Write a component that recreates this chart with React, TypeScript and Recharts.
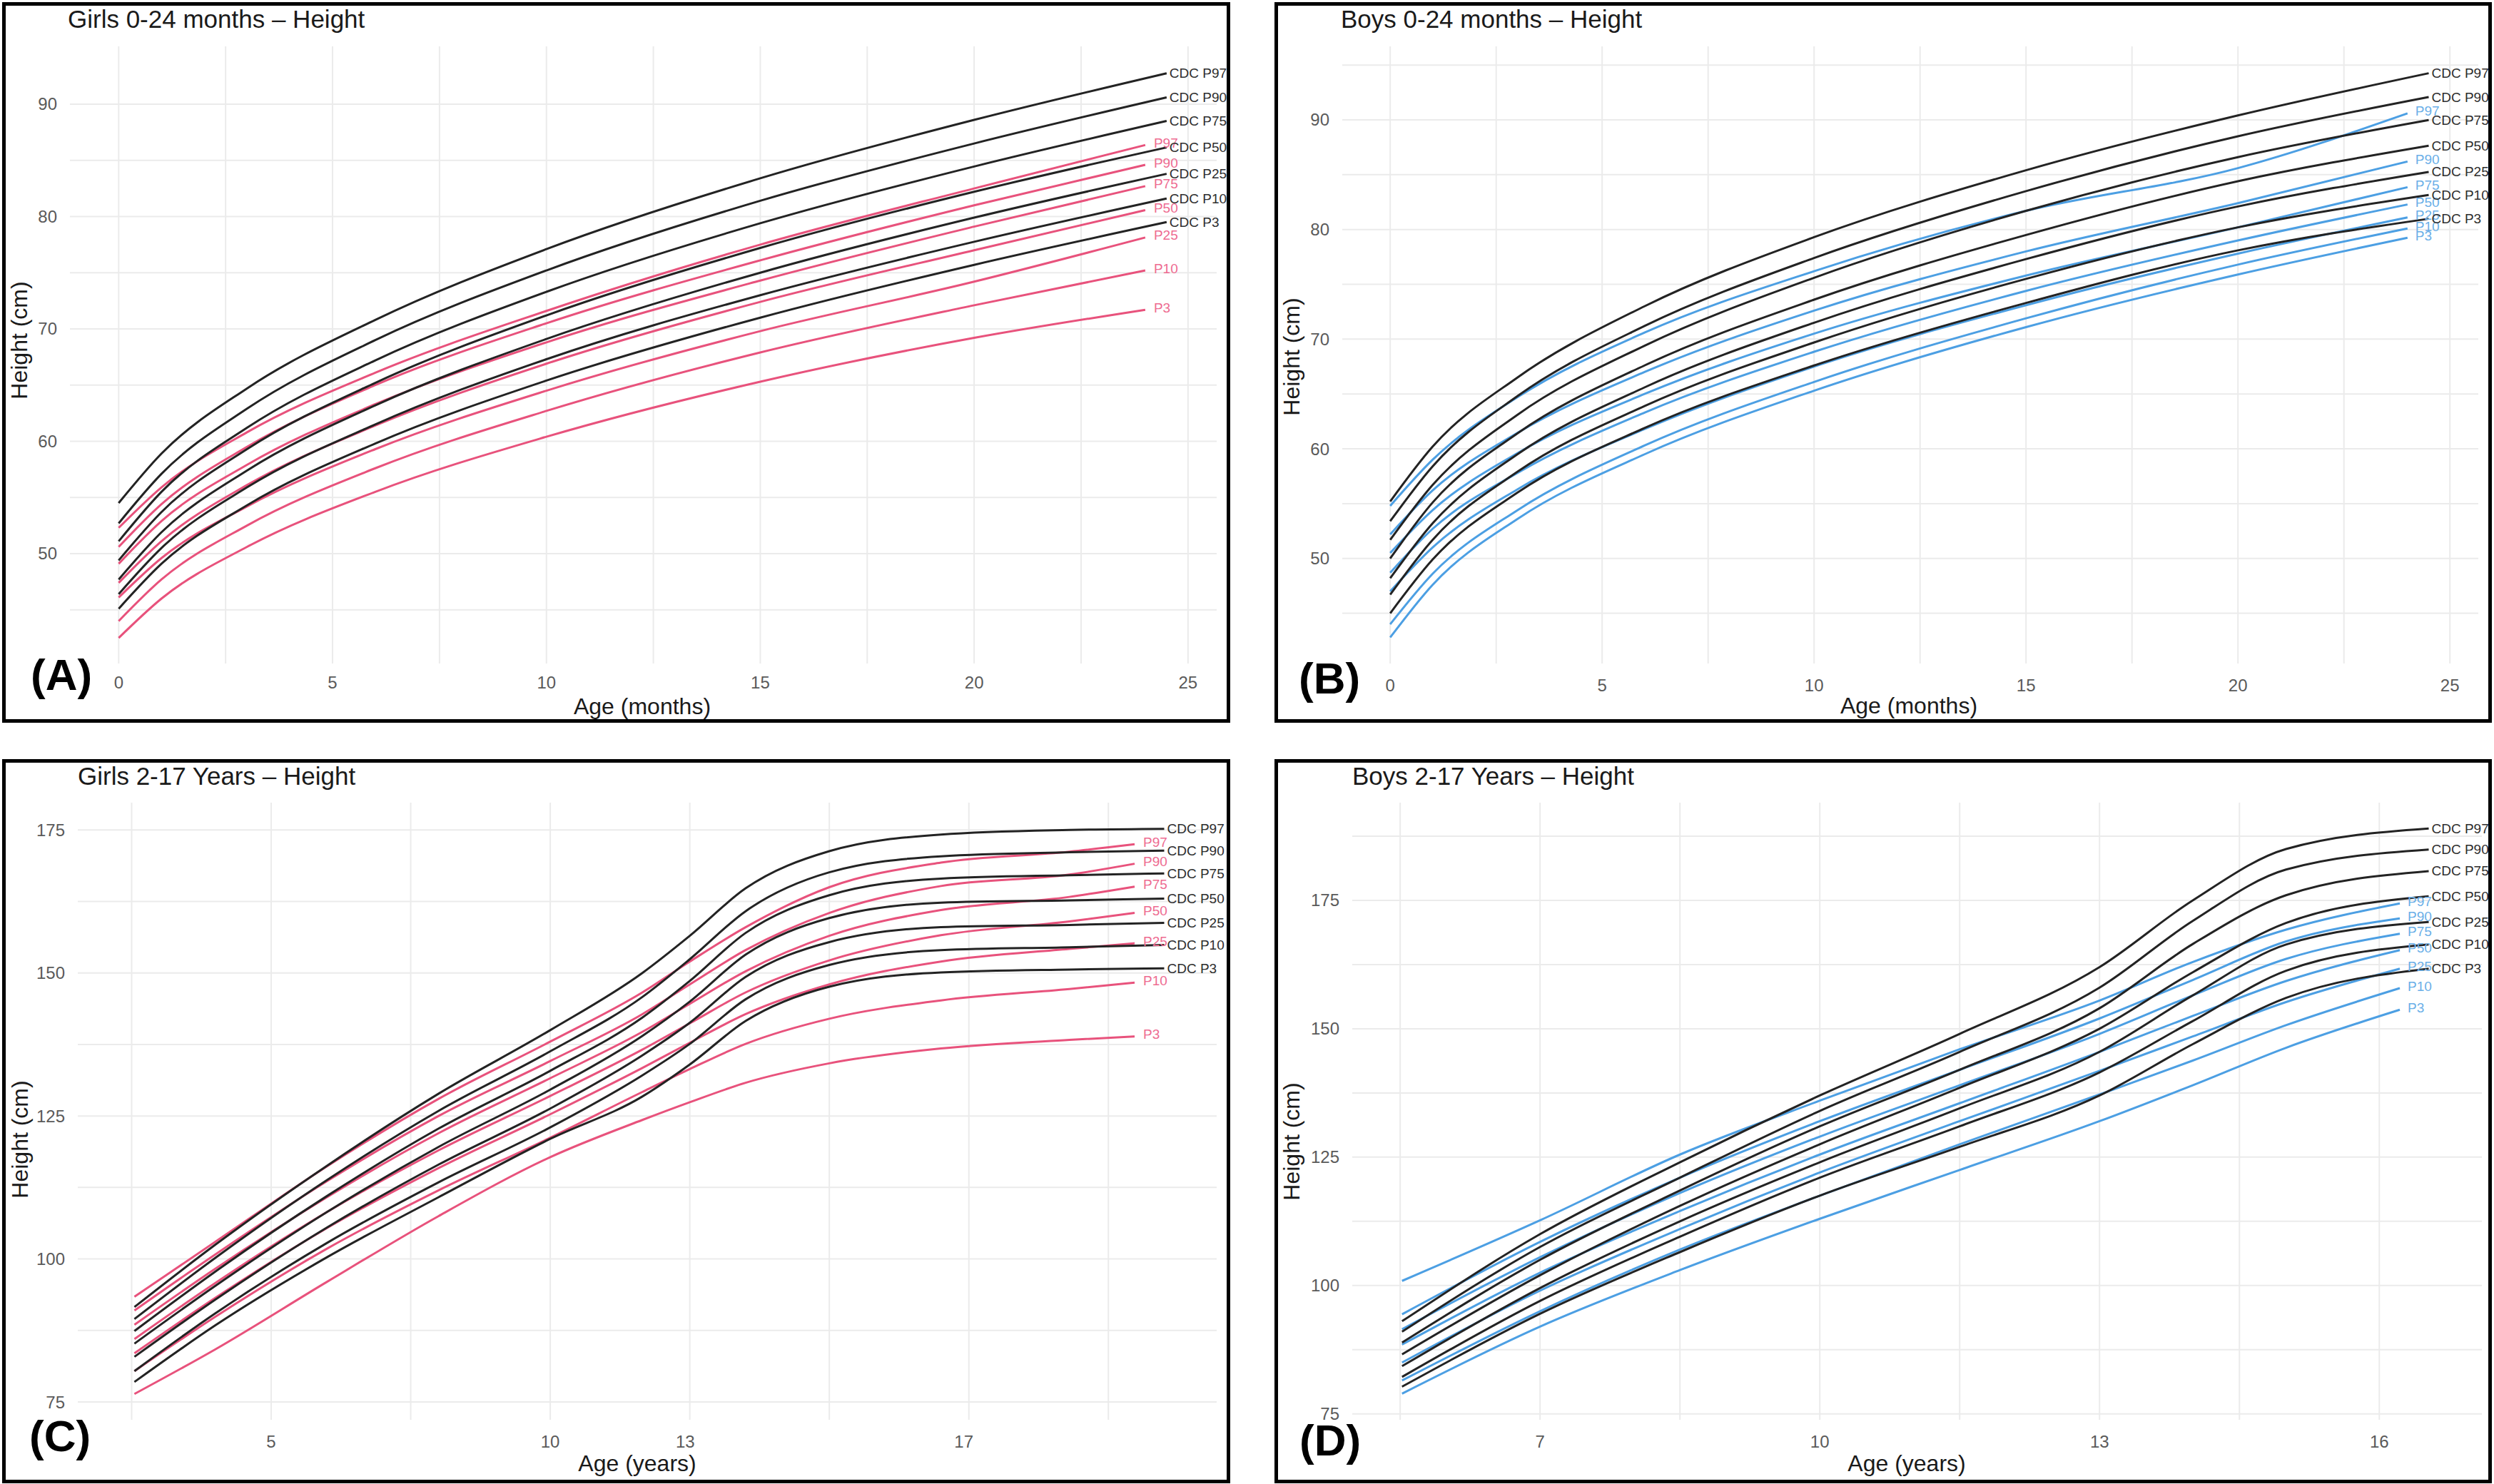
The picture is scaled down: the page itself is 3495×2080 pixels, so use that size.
import React from "react";
import { LineChart, Line, XAxis, YAxis, CartesianGrid } from "recharts";

const FONT = '"Liberation Sans", Arial, Helvetica, sans-serif';
const BORDER = 5;
const CDC_LINE = "#232323";
const CDC_TEXT = "#2e2e2e";
const GIRL_LINE = "#E8527C";
const GIRL_TEXT = "#EE6B91";
const BOY_LINE = "#4C9FE3";
const BOY_TEXT = "#6BAFE8";
const GRID = "#EBEBEB";
const TICK = "#5A5A5A";

const pctNames = ["P97", "P90", "P75", "P50", "P25", "P10", "P3"];

// ---------- Panel A: Girls 0-24 months ----------
const aCdcMonths = [0, 1, 3, 6, 10, 15, 20, 24.5];
const aCdcP97 = [54.5, 58.9, 64.7, 70.8, 77.1, 83.4, 88.6, 92.75];
const aCdcP90 = [52.7, 57.1, 62.9, 69.0, 75.2, 81.4, 86.5, 90.6];
const aCdcP75 = [51.1, 55.5, 61.2, 67.2, 73.3, 79.4, 84.45, 88.5];
const aCdcP50 = [49.4, 53.7, 59.3, 65.2, 71.2, 77.2, 82.2, 86.15];
const aCdcP25 = [47.7, 51.9, 57.4, 63.2, 69.1, 75.0, 79.9, 83.8];
const aCdcP10 = [46.4, 50.5, 55.9, 61.5, 67.3, 73.0, 77.75, 81.6];
const aCdcP3 = [45.1, 49.1, 54.3, 59.8, 65.4, 71.0, 75.7, 79.5];
const aStudyMonths = [0, 1, 3, 6, 10, 15, 20, 24];
const aP97 = [52.3, 55.9, 60.8, 66.1, 71.6, 77.5, 82.5, 86.36];
const aP90 = [50.6, 54.4, 59.5, 65.0, 70.5, 76.1, 81.0, 84.6];
const aP75 = [49.1, 52.9, 57.9, 63.3, 68.8, 74.3, 79.1, 82.7];
const aP50 = [47.4, 51.1, 56.1, 61.4, 66.9, 72.4, 77.0, 80.57];
const aP25 = [46.1, 49.6, 54.2, 59.3, 64.5, 69.8, 74.2, 78.13];
const aP10 = [44.0, 47.7, 52.5, 57.6, 62.7, 67.9, 72.1, 75.2];
const aP3 = [42.5, 46.0, 50.6, 55.5, 60.4, 65.3, 69.2, 71.7];

// ---------- Panel B: Boys 0-24 months ----------
const bCdcMonths = [0, 1, 3, 6, 10, 15, 20, 24.5];
const bCdcP97 = [55.2, 60.2, 66.5, 73.0, 79.3, 85.4, 90.4, 94.25];
const bCdcP90 = [53.4, 58.4, 64.8, 71.2, 77.4, 83.5, 88.5, 92.08];
const bCdcP75 = [51.7, 56.7, 63.1, 69.4, 75.6, 81.7, 86.6, 89.98];
const bCdcP50 = [50.0, 55.1, 61.4, 67.6, 73.6, 79.5, 84.4, 87.64];
const bCdcP25 = [48.2, 53.2, 59.5, 65.6, 71.5, 77.3, 82.1, 85.25];
const bCdcP10 = [46.7, 51.7, 57.9, 63.9, 69.7, 75.5, 80.2, 83.15];
const bCdcP3 = [45.0, 49.9, 56.0, 61.9, 67.6, 73.3, 78.1, 80.98];
const bStudyMonths = [0, 1, 3, 6, 10, 15, 20, 24];
const bP97 = [54.8, 59.0, 64.7, 70.6, 76.2, 81.7, 85.6, 90.59];
const bP90 = [52.2, 56.2, 61.45, 67.0, 72.6, 78.0, 82.4, 86.2];
const bP75 = [50.5, 54.4, 59.6, 65.0, 70.5, 75.8, 80.2, 83.86];
const bP50 = [48.7, 52.7, 57.8, 63.3, 68.85, 74.4, 79.0, 82.28];
const bP25 = [47.0, 51.0, 56.3, 61.8, 67.5, 73.1, 77.8, 81.1];
const bP10 = [44.0, 48.6, 54.4, 60.3, 66.1, 71.9, 76.8, 80.1];
const bP3 = [42.8, 47.6, 53.6, 59.5, 65.3, 71.1, 75.9, 79.25];

// ---------- Panel C: Girls 2-17 years ----------
const cCdcAge = [2.55, 4, 6, 8, 10, 11.65, 12.5, 13.5, 15, 17, 19.3, 21.0];
const cCdcP97 = [91.6, 102.5, 116.3, 128.9, 140.0, 150.0, 156.5, 164.8, 171.3, 174.2, 175.0, 175.2];
const cCdcP90 = [89.5, 100.2, 113.8, 125.9, 136.3, 145.8, 152.4, 160.8, 167.6, 170.4, 171.1, 171.4];
const cCdcP75 = [87.4, 97.8, 111.0, 122.8, 132.9, 142.2, 148.6, 157.0, 163.6, 166.5, 167.1, 167.4];
const cCdcP50 = [85.2, 95.3, 108.2, 119.6, 129.6, 139.0, 145.0, 153.2, 159.6, 162.3, 162.7, 163.0];
const cCdcP25 = [82.9, 92.9, 105.5, 116.5, 126.3, 135.6, 141.3, 149.3, 155.4, 158.0, 158.4, 158.75];
const cCdcP10 = [80.4, 90.5, 102.8, 113.4, 123.0, 132.1, 137.6, 145.4, 151.4, 154.0, 154.5, 154.9];
const cCdcP3 = [78.5, 88.4, 100.3, 110.8, 121.0, 128.4, 134.0, 141.6, 147.6, 150.1, 150.6, 150.8];
const cStudyAge = [2.55, 4, 6, 8, 10, 11.65, 12.5, 13.5, 15, 17, 19.3, 20.47];
const cP97 = [93.4, 103.0, 116.2, 128.0, 138.0, 146.6, 152.0, 158.0, 165.0, 169.3, 171.2, 172.5];
const cP90 = [91.0, 100.8, 113.6, 125.0, 134.6, 142.8, 148.0, 154.0, 160.5, 165.2, 167.2, 169.1];
const cP75 = [88.5, 98.3, 110.8, 122.0, 131.6, 139.7, 144.6, 150.3, 156.5, 161.0, 163.3, 165.1];
const cP50 = [86.0, 95.8, 108.2, 119.0, 128.5, 136.6, 141.2, 146.6, 152.2, 156.6, 159.0, 160.5];
const cP25 = [83.5, 93.2, 105.4, 115.9, 125.3, 133.4, 137.8, 142.8, 148.0, 152.0, 154.2, 155.2];
const cP10 = [80.4, 89.9, 101.8, 112.0, 121.2, 129.2, 133.2, 137.6, 142.0, 145.2, 147.2, 148.3];
const cP3 = [76.4, 84.2, 96.0, 107.5, 117.8, 124.3, 127.4, 130.8, 134.2, 136.8, 138.3, 138.9];
const cTickPos = [5, 10, 12.42, 17.41];
const cTickLabels = ["5", "10", "13", "17"];

// ---------- Panel D: Boys 2-17 years ----------
const dCdcAge = [5.52, 7, 8.5, 10, 11.5, 13, 14, 15, 16.53];
const dCdcP97 = [93.05, 110, 124, 137, 149, 162, 175, 185, 189.0];
const dCdcP90 = [91.0, 107.5, 121, 134, 145.5, 158, 171, 181, 184.9];
const dCdcP75 = [88.9, 105, 118.5, 131, 142, 154, 166.5, 176, 180.7];
const dCdcP50 = [86.6, 102, 115.5, 127.5, 138.5, 150, 161, 170.6, 175.8];
const dCdcP25 = [84.3, 99.5, 112.5, 124, 134.5, 145.5, 156.5, 166.4, 170.8];
const dCdcP10 = [82.2, 97, 109.5, 121, 131, 141.5, 151.5, 161.3, 166.4];
const dCdcP3 = [80.3, 94.5, 106.5, 117.5, 127, 137, 147, 156, 161.7];
const dStudyAge = [5.52, 7, 8.5, 10, 11.5, 13, 14, 15, 16.22];
const dP97 = [100.9, 112.7, 125.5, 136.0, 146.0, 155.5, 163.0, 169.3, 174.4];
const dP90 = [94.4, 108.5, 121, 132, 142, 152, 159.5, 167.0, 171.5];
const dP75 = [91.5, 105.5, 118, 129, 139, 149, 156.5, 163.6, 168.5];
const dP50 = [88.5, 102.5, 114.5, 125.5, 135.5, 145.5, 152.5, 159.3, 165.3];
const dP25 = [85.0, 99, 111, 122, 132, 141.8, 148.5, 155.2, 161.7];
const dP10 = [81.5, 95, 107, 117.5, 127.5, 137.2, 143.8, 150.7, 157.9];
const dP3 = [78.95, 92, 103, 113, 122.5, 132, 139, 146.3, 153.7];

type Series = { name: string; xs: number[]; ys: number[] };

const mk = (xs: number[], list: number[][]): Series[] =>
  list.map((ys, i) => ({ name: pctNames[i], xs, ys }));

const pts = (xs: number[], ys: number[]) => xs.map((x, i) => ({ x, y: ys[i] }));

type TextPos = { x: number; y: number };

type PanelCfg = {
  frame: { left: number; top: number; width: number; height: number };
  plot: { left: number; top: number; right: number; bottom: number };
  xDomain: [number, number];
  yDomain: [number, number];
  xTicks: number[];
  xTickLabels?: string[];
  yTicks: number[];
  xGrid: number[];
  yGrid: number[];
  xTickMargin: number;
  cdc: Series[];
  study: Series[];
  studyLine: string;
  studyText: string;
  cdcDx: number;
  studyDx: number;
  title: string;
  titlePos: TextPos;
  letter: string;
  letterPos: TextPos;
  xTitle: string;
  xTitlePos: TextPos;
  yTitlePos: TextPos;
};

const endLabel = (text: string, color: string, count: number, dx: number, dy: number) => (props: any) => {
  const { x, y, index } = props;
  if (index !== count - 1 || x == null || y == null) return null;
  return (
    <text
      key={text}
      x={x + dx}
      y={y + dy}
      fill={color}
      fontSize={19}
      fontFamily={FONT}
      dominantBaseline="central"
    >
      {text}
    </text>
  );
};

function Panel({ cfg }: { cfg: PanelCfg }) {
  const innerW = cfg.frame.width - 2 * BORDER;
  const innerH = cfg.frame.height - 2 * BORDER;
  const fmt = (v: number) => {
    if (cfg.xTickLabels) {
      const i = cfg.xTicks.indexOf(v);
      return i >= 0 ? cfg.xTickLabels[i] : String(v);
    }
    return String(v);
  };
  return (
    <div
      style={{
        position: "absolute",
        left: cfg.frame.left,
        top: cfg.frame.top,
        width: cfg.frame.width,
        height: cfg.frame.height,
        border: `${BORDER}px solid #000`,
        boxSizing: "border-box",
        overflow: "hidden",
        background: "#fff",
      }}
    >
      <div style={{ position: "absolute", left: 0, top: 0 }}>
        <LineChart
          width={innerW}
          height={innerH}
          margin={{ top: cfg.plot.top, right: innerW - cfg.plot.right, bottom: 0, left: 0 }}
        >
          <CartesianGrid
            stroke={GRID}
            strokeWidth={2}
            horizontalValues={cfg.yGrid}
            verticalValues={cfg.xGrid}
            fill="none"
          />
          <XAxis
            type="number"
            dataKey="x"
            domain={cfg.xDomain}
            allowDataOverflow
            ticks={cfg.xTicks}
            interval={0}
            tickFormatter={fmt}
            height={innerH - cfg.plot.bottom}
            axisLine={false}
            tickLine={false}
            tickSize={0}
            tickMargin={cfg.xTickMargin}
            tick={{ fill: TICK, fontSize: 24, fontFamily: FONT }}
          />
          <YAxis
            type="number"
            domain={cfg.yDomain}
            allowDataOverflow
            ticks={cfg.yTicks}
            interval={0}
            width={cfg.plot.left}
            axisLine={false}
            tickLine={false}
            tickSize={0}
            tickMargin={18}
            tick={{ fill: TICK, fontSize: 24, fontFamily: FONT }}
          />
          {cfg.study.map((s) => (
            <Line
              key={"s" + s.name}
              data={pts(s.xs, s.ys)}
              dataKey="y"
              type="monotone"
              stroke={cfg.studyLine}
              strokeWidth={3}
              dot={false}
              activeDot={false}
              isAnimationActive={false}
              label={endLabel(s.name, cfg.studyText, s.xs.length, cfg.studyDx, -3)}
            />
          ))}
          {cfg.cdc.map((s) => (
            <Line
              key={"c" + s.name}
              data={pts(s.xs, s.ys)}
              dataKey="y"
              type="monotone"
              stroke={CDC_LINE}
              strokeWidth={3}
              dot={false}
              activeDot={false}
              isAnimationActive={false}
              label={endLabel("CDC " + s.name, CDC_TEXT, s.xs.length, cfg.cdcDx, 0)}
            />
          ))}
        </LineChart>
      </div>
      <svg
        width={innerW}
        height={innerH}
        style={{ position: "absolute", left: 0, top: 0, pointerEvents: "none" }}
      >
        <text x={cfg.titlePos.x} y={cfg.titlePos.y} fontSize={35} fontFamily={FONT} fill="#1a1a1a">
          {cfg.title}
        </text>
        <text x={cfg.letterPos.x} y={cfg.letterPos.y} fontSize={62} fontWeight="bold" fontFamily={FONT} fill="#000">
          {cfg.letter}
        </text>
        <text
          x={cfg.xTitlePos.x}
          y={cfg.xTitlePos.y}
          fontSize={32}
          fontFamily={FONT}
          fill="#1a1a1a"
          textAnchor="middle"
        >
          {cfg.xTitle}
        </text>
        <text
          x={cfg.yTitlePos.x}
          y={cfg.yTitlePos.y}
          fontSize={32}
          fontFamily={FONT}
          fill="#1a1a1a"
          textAnchor="middle"
          transform={`rotate(-90 ${cfg.yTitlePos.x} ${cfg.yTitlePos.y})`}
        >
          Height (cm)
        </text>
      </svg>
    </div>
  );
}

const range = (a: number, b: number, s: number) => {
  const out: number[] = [];
  for (let v = a; v <= b + 1e-9; v += s) out.push(Math.round(v * 100) / 100);
  return out;
};

const panels: PanelCfg[] = [
  {
    frame: { left: 3, top: 3, width: 1721, height: 1010 },
    plot: { left: 90, top: 57, right: 1697, bottom: 922 },
    xDomain: [-1.14, 25.67],
    yDomain: [40.22, 95.14],
    xTicks: [0, 5, 10, 15, 20, 25],
    yTicks: [50, 60, 70, 80, 90],
    xGrid: range(0, 25, 2.5),
    yGrid: range(45, 90, 5),
    xTickMargin: 18,
    cdc: mk(aCdcMonths, [aCdcP97, aCdcP90, aCdcP75, aCdcP50, aCdcP25, aCdcP10, aCdcP3]),
    study: mk(aStudyMonths, [aP97, aP90, aP75, aP50, aP25, aP10, aP3]),
    studyLine: GIRL_LINE,
    studyText: GIRL_TEXT,
    cdcDx: 4,
    studyDx: 12,
    title: "Girls 0-24 months \u2013 Height",
    titlePos: { x: 87, y: 31 },
    letter: "(A)",
    letterPos: { x: 35, y: 959 },
    xTitle: "Age (months)",
    xTitlePos: { x: 892, y: 993 },
    yTitlePos: { x: 30, y: 469 },
  },
  {
    frame: { left: 1786, top: 3, width: 1706, height: 1010 },
    plot: { left: 90, top: 57, right: 1682, bottom: 922 },
    xDomain: [-1.131, 25.67],
    yDomain: [40.42, 96.7],
    xTicks: [0, 5, 10, 15, 20, 25],
    yTicks: [50, 60, 70, 80, 90],
    xGrid: range(0, 25, 2.5),
    yGrid: range(45, 95, 5),
    xTickMargin: 22,
    cdc: mk(bCdcMonths, [bCdcP97, bCdcP90, bCdcP75, bCdcP50, bCdcP25, bCdcP10, bCdcP3]),
    study: mk(bStudyMonths, [bP97, bP90, bP75, bP50, bP25, bP10, bP3]),
    studyLine: BOY_LINE,
    studyText: BOY_TEXT,
    cdcDx: 4,
    studyDx: 11,
    title: "Boys 0-24 months \u2013 Height",
    titlePos: { x: 88, y: 31 },
    letter: "(B)",
    letterPos: { x: 29, y: 964 },
    xTitle: "Age (months)",
    xTitlePos: { x: 884, y: 992 },
    yTitlePos: { x: 30, y: 492 },
  },
  {
    frame: { left: 3, top: 1064, width: 1721, height: 1015 },
    plot: { left: 101, top: 56, right: 1697, bottom: 921 },
    xDomain: [1.535, 21.94],
    yDomain: [71.88, 179.78],
    xTicks: cTickPos,
    xTickLabels: cTickLabels,
    yTicks: [75, 100, 125, 150, 175],
    xGrid: [2.5, 5, 7.5, 10, 12.5, 15, 17.5, 20],
    yGrid: range(75, 175, 12.5),
    xTickMargin: 22,
    cdc: mk(cCdcAge, [cCdcP97, cCdcP90, cCdcP75, cCdcP50, cCdcP25, cCdcP10, cCdcP3]),
    study: mk(cStudyAge, [cP97, cP90, cP75, cP50, cP25, cP10, cP3]),
    studyLine: GIRL_LINE,
    studyText: GIRL_TEXT,
    cdcDx: 4,
    studyDx: 12,
    title: "Girls 2-17 Years \u2013 Height",
    titlePos: { x: 101, y: 31 },
    letter: "(C)",
    letterPos: { x: 33, y: 965 },
    xTitle: "Age (years)",
    xTitlePos: { x: 885, y: 993 },
    yTitlePos: { x: 31, y: 528 },
  },
  {
    frame: { left: 1786, top: 1064, width: 1706, height: 1015 },
    plot: { left: 104, top: 56, right: 1687, bottom: 921 },
    xDomain: [4.986, 17.1],
    yDomain: [73.85, 194.03],
    xTicks: [7, 10, 13, 16],
    yTicks: [75, 100, 125, 150, 175],
    xGrid: range(5.5, 16, 1.5),
    yGrid: range(75, 187.5, 12.5),
    xTickMargin: 22,
    cdc: mk(dCdcAge, [dCdcP97, dCdcP90, dCdcP75, dCdcP50, dCdcP25, dCdcP10, dCdcP3]),
    study: mk(dStudyAge, [dP97, dP90, dP75, dP50, dP25, dP10, dP3]),
    studyLine: BOY_LINE,
    studyText: BOY_TEXT,
    cdcDx: 4,
    studyDx: 11,
    title: "Boys 2-17 Years \u2013 Height",
    titlePos: { x: 104, y: 31 },
    letter: "(D)",
    letterPos: { x: 30, y: 971 },
    xTitle: "Age (years)",
    xTitlePos: { x: 881, y: 993 },
    yTitlePos: { x: 30, y: 531 },
  },
];

export default function App() {
  return (
    <div
      style={{
        position: "absolute",
        left: 0,
        top: 0,
        width: 3495,
        height: 2080,
        background: "#fff",
        overflow: "hidden",
      }}
    >
      {panels.map((p, i) => (
        <Panel key={i} cfg={p} />
      ))}
    </div>
  );
}
